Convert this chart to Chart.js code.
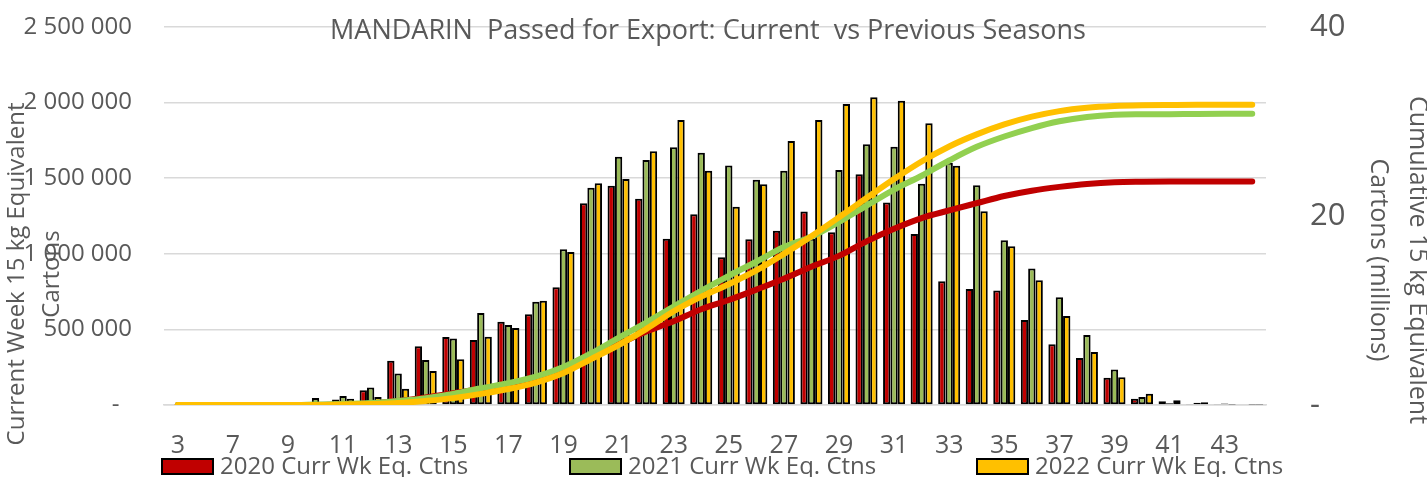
<!DOCTYPE html>
<html>
<head>
<meta charset="utf-8">
<script src="https://cdn.jsdelivr.net/npm/chart.js@4"></script>
<style>
  body { margin: 0; background: #fff; }
  #wrap { width: 1427px; height: 477px; position: relative; }
</style>
</head>
<body>
<div id="wrap"><canvas id="mandarinChart"></canvas></div>
<script>
// weeks on the x axis (only every other one is labelled)
const weeks = ['3', '5', '7', '8', '9', '10', '11', '12', '13', '14', '15', '16', '17', '18', '19', '20',
  '21', '22', '23', '24', '25', '26', '27', '28', '29', '30', '31', '32', '33', '34', '35', '36',
  '37', '38', '39', '40', '41', '42', '43', '44'];

// weekly cartons (15 kg equivalent)
const wk2020 = [0, 0, 0, 0, 0, 0, 36000, 97000, 293000, 388000, 450000, 430000, 551000, 600000, 778000,
  1334000, 1450000, 1364000, 1100000, 1261000, 977000, 1096000, 1153000, 1279000, 1142000,
  1526000, 1340000, 1131000, 818000, 767000, 758000, 562000, 401000, 311000, 181000,
  42000, 24000, 3000, 4000, 0];
const wk2021 = [0, 0, 0, 0, 0, 46000, 59000, 115000, 209000, 297000, 440000, 608000, 529000, 683000, 1030000,
  1437000, 1642000, 1620000, 1704000, 1669000, 1584000, 1490000, 1550000, 1100000, 1554000,
  1724000, 1708000, 1464000, 1603000, 1453000, 1089000, 902000, 712000, 463000, 234000,
  53000, 11000, 15000, 10000, 2000];
const wk2022 = [0, 0, 0, 0, 0, 0, 42000, 53000, 108000, 225000, 302000, 452000, 509000, 690000, 1012000,
  1466000, 1495000, 1678000, 1885000, 1550000, 1312000, 1460000, 1746000, 1885000, 1991000,
  2035000, 2013000, 1863000, 1583000, 1281000, 1050000, 825000, 589000, 350000, 183000,
  75000, 31000, 18000, 2000, 2000];

// cumulative cartons, millions (right axis)
const cum2020 = [0, 0, 0, 0, 0, 0, 0.04, 0.13, 0.43, 0.81, 1.26, 1.69, 2.25, 2.85, 3.62,
  4.96, 6.41, 7.77, 8.87, 10.13, 11.11, 12.21, 13.36, 14.64, 15.78,
  17.31, 18.65, 19.78, 20.59, 21.36, 22.12, 22.68, 23.08, 23.39, 23.57,
  23.62, 23.64, 23.64, 23.65, 23.65];
const cum2021 = [0, 0, 0, 0, 0, 0.05, 0.11, 0.22, 0.43, 0.73, 1.17, 1.77, 2.30, 2.99, 4.02,
  5.45, 7.10, 8.72, 10.42, 12.09, 13.67, 15.16, 16.71, 17.81, 19.37,
  21.09, 22.80, 24.26, 25.87, 27.32, 28.41, 29.31, 30.02, 30.48, 30.72,
  30.77, 30.78, 30.80, 30.81, 30.81];
const cum2022 = [0, 0, 0, 0, 0, 0, 0.04, 0.10, 0.20, 0.43, 0.73, 1.18, 1.69, 2.38, 3.39,
  4.86, 6.35, 8.03, 9.92, 11.47, 12.78, 14.24, 15.99, 17.87, 19.86,
  21.90, 23.91, 25.77, 27.36, 28.64, 29.69, 30.51, 31.10, 31.45, 31.63,
  31.71, 31.74, 31.76, 31.76, 31.76];

const titleText = 'MANDARIN  Passed for Export: Current  vs Previous Seasons';
const leftTitle = ['Current Week 15 kg Equivalent', 'Cartons'];
const rightTitle = ['Cumulative 15 kg Equivalent', 'Cartons (millions)'];
const legendItems = [
  { text: '2020 Curr Wk Eq. Ctns', color: '#C00000' },
  { text: '2021 Curr Wk Eq. Ctns', color: '#9BBB59' },
  { text: '2022 Curr Wk Eq. Ctns', color: '#FFC000' }
];

const grey = '#595959';
Chart.defaults.font.family = '"Open Sans", sans-serif';
Chart.defaults.color = grey;

function spaced(v) {
  return String(v).replace(/\B(?=(\d{3})+(?!\d))/g, ' ');
}

// title, axis titles and legend sit over the axes like in the excel sheet
const overlay = {
  id: 'overlay',
  afterDraw(chart) {
    const c = chart.ctx;
    c.save();
    c.fillStyle = grey;
    c.textAlign = 'center';
    c.textBaseline = 'middle';
    c.font = '27px "Open Sans"';
    c.fillText(titleText, 708, 31);

    c.font = '24px "Open Sans"';
    c.save();
    c.translate(34.5, 274);
    c.rotate(-Math.PI / 2);
    c.fillText(leftTitle[0], 0, -17.5);
    c.fillText(leftTitle[1], 0, 17.5);
    c.restore();

    c.font = '25px "Open Sans"';
    c.save();
    c.translate(1397.5, 260);
    c.rotate(Math.PI / 2);
    c.fillText(rightTitle[0], 0, -19.5);
    c.fillText(rightTitle[1], 0, 19.5);
    c.restore();

    const boxX = [162, 570, 977];
    c.font = '24px "Open Sans"';
    c.textAlign = 'left';
    legendItems.forEach((item, i) => {
      c.fillStyle = item.color;
      c.fillRect(boxX[i], 459, 51, 15);
      c.strokeStyle = '#000';
      c.lineWidth = 2;
      c.strokeRect(boxX[i], 459, 51, 15);
      c.fillStyle = grey;
      c.fillText(item.text, boxX[i] + 58, 467);
    });
    c.restore();
  }
};

// fixed axis sizes so the plot area lands where excel put it
function fixV(w) {
  return s => { s.width = w; s.paddingTop = 0; s.paddingBottom = 0; };
}

const barStyle = { borderColor: '#000', borderWidth: 2, borderSkipped: false,
  categoryPercentage: 0.8, barPercentage: 1.0, yAxisID: 'y' };
const lineStyle = { type: 'line', yAxisID: 'y1', borderWidth: 6, pointRadius: 0,
  cubicInterpolationMode: 'monotone', borderCapStyle: 'round', borderJoinStyle: 'round', fill: false };

const ctx = document.getElementById('mandarinChart').getContext('2d');
const myChart = new Chart(ctx, {
  type: 'bar',
  data: {
    labels: weeks,
    datasets: [
      { ...barStyle, label: '2020 Curr Wk Eq. Ctns', data: wk2020, backgroundColor: '#C00000', order: 10 },
      { ...barStyle, label: '2021 Curr Wk Eq. Ctns', data: wk2021, backgroundColor: '#9BBB59', order: 11 },
      { ...barStyle, label: '2022 Curr Wk Eq. Ctns', data: wk2022, backgroundColor: '#FFC000', order: 12 },
      { ...lineStyle, label: '2020 Cumulative', data: cum2020, borderColor: '#C00000', order: 2 },
      { ...lineStyle, label: '2021 Cumulative', data: cum2021, borderColor: '#92D050', order: 1 },
      { ...lineStyle, label: '2022 Cumulative', data: cum2022, borderColor: '#FFC000', order: 0 }
    ]
  },
  options: {
    responsive: true,
    maintainAspectRatio: false,
    animation: false,
    layout: { padding: { top: 27, left: 0, right: 0, bottom: 0 } },
    plugins: {
      legend: { display: false },
      title: { display: false },
      tooltip: { enabled: false }
    },
    scales: {
      x: {
        afterFit: s => { s.height = 72; s.paddingLeft = 0; s.paddingRight = 0; },
        grid: { display: false, drawTicks: false },
        border: { color: '#D9D9D9', width: 1.5 },
        ticks: {
          autoSkip: false, maxRotation: 0, minRotation: 0, padding: 26,
          font: { size: 25 },
          callback: (v, i) => (i % 2 === 0 ? weeks[i] : '')
        }
      },
      y: {
        position: 'left',
        min: 0, max: 2500000,
        afterFit: fixV(164),
        grid: { color: '#D9D9D9', lineWidth: 1.5, drawTicks: false },
        border: { display: false },
        ticks: {
          stepSize: 500000, padding: 32,
          font: { size: 24 },
          callback: v => (v === 0 ? '-  ' : spaced(v))
        }
      },
      y1: {
        position: 'right',
        min: 0, max: 40,
        afterFit: fixV(161),
        grid: { drawOnChartArea: false, drawTicks: false },
        border: { display: false },
        ticks: {
          stepSize: 20, padding: 44,
          font: { size: 31 },
          callback: v => (v === 0 ? '-' : v)
        }
      }
    }
  },
  plugins: [overlay]
});
</script>
</body>
</html>
